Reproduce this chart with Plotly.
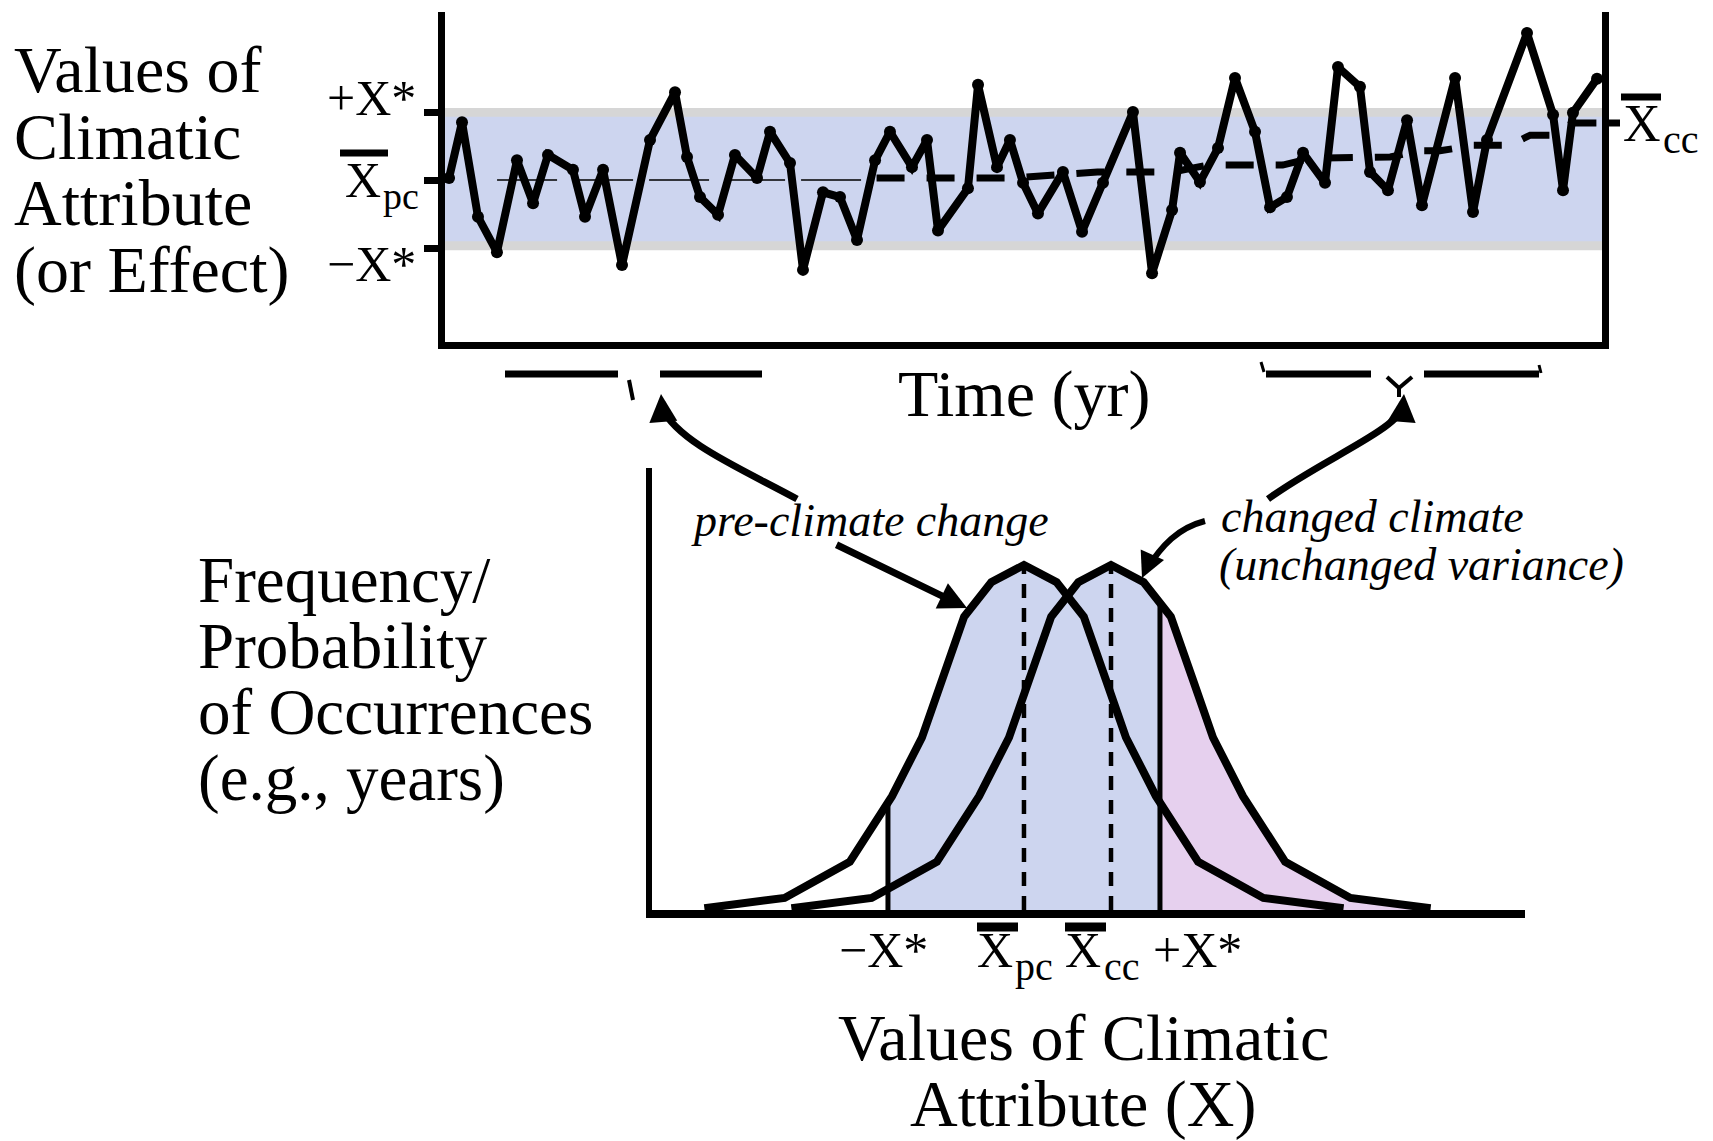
import numpy as np
import plotly.graph_objects as go

W, H = 1713, 1141

# ---------------- data: top time series ----------------
years = [0.35, 1.47, 2.85, 4.49, 6.22, 7.61, 8.90, 11.06, 12.10, 13.66, 15.30, 17.72, 19.88,
         20.92, 22.04, 23.60, 25.06, 26.97, 28.09, 29.82, 30.94, 32.67, 34.14, 35.61, 37.17,
         38.46, 40.36, 41.66, 42.61, 45.20, 46.07, 47.71, 48.83, 49.96, 51.25, 53.41, 55.06,
         56.87, 59.46, 61.11, 62.84, 63.53, 65.25, 66.81, 68.28, 70.01, 71.31, 72.77, 74.16,
         76.06, 77.18, 79.08, 79.95, 81.50, 83.15, 84.44, 87.30, 88.85, 90.06, 93.52, 95.77,
         96.63, 97.49, 99.57]
values = [0.03, 0.85, -0.54, -1.06, 0.29, -0.34, 0.37, 0.15, -0.54, 0.15, -1.25, 0.59, 1.29,
          0.34, -0.25, -0.51, 0.37, 0.03, 0.71, 0.25, -1.32, -0.18, -0.25, -0.88, 0.29,
          0.71, 0.19, 0.59, -0.74, -0.12, 1.40, 0.19, 0.59, -0.04, -0.49, 0.12, -0.76,
          -0.04, 1.00, -1.37, -0.44, 0.40, -0.03, 0.47, 1.50, 0.71, -0.40, -0.25, 0.40,
          -0.04, 1.66, 1.37, 0.12, -0.15, 0.88, -0.37, 1.50, -0.47, 0.59, 2.16, 0.96,
          -0.15, 0.99, 1.49]

# pre-climate mean (thin dashed) and changed-climate trend (thick dashed)
mean_years = [4.5, 36.0]
mean_values = [0.0, 0.0]
trend_years = [37.3, 49.1, 56.4, 62.9, 65.9, 72.4, 74.8, 81.7, 84.3, 86.0, 88.9, 92.0, 93.8,
               95.5, 97.5, 100.0]
trend_values = [0.03, 0.03, 0.12, 0.12, 0.22, 0.22, 0.32, 0.34, 0.43, 0.43, 0.51, 0.51, 0.66,
                0.66, 0.84, 0.84]

X_STAR = 1.0
XBAR_PC_TOP = 0.0
XBAR_CC_TOP = 0.84
band_outer = [-1.03, 1.06]
band_inner = [-0.90, 0.93]

# ---------------- data: bottom distributions ----------------
pre_x = [-2.35, -1.76, -1.28, -0.97, -0.75, -0.60, -0.44, -0.24, 0.0, 0.24, 0.44, 0.60, 0.75,
         0.97, 1.28, 1.76, 2.35]
pre_h = [0.005, 0.035, 0.14, 0.33, 0.50, 0.67, 0.85, 0.95, 1.0, 0.95, 0.85, 0.67, 0.50,
         0.33, 0.14, 0.035, 0.005]
cc_x = [-1.71, -1.12, -0.64, -0.33, -0.11, 0.04, 0.20, 0.40, 0.64, 0.88, 1.08, 1.24, 1.39,
        1.61, 1.92, 2.40, 2.99]
cc_h = [0.005, 0.035, 0.14, 0.33, 0.50, 0.67, 0.85, 0.95, 1.0, 0.95, 0.85, 0.67, 0.50,
        0.33, 0.14, 0.035, 0.005]
XBAR_PC = 0.0
XBAR_CC = 0.64

BLUE = "#cdd5ef"
PINK = "#e6d0ee"
GRAY = "#d6d6d6"
SERIF = "Liberation Serif, Times New Roman, serif"


def px(x):
    return x / W


def py(y):
    return 1 - y / H


fig = go.Figure()

# ---------- top panel ----------
fig.add_trace(go.Scatter(x=mean_years, y=mean_values, mode="lines",
                         line=dict(color="black", width=1.5, dash="60px,16px"),
                         xaxis="x", yaxis="y", hoverinfo="skip"))
fig.add_trace(go.Scatter(x=trend_years, y=trend_values, mode="lines",
                         line=dict(color="black", width=7, dash="28px,22px"),
                         xaxis="x", yaxis="y", hoverinfo="skip"))
fig.add_trace(go.Scatter(x=years, y=values, mode="lines+markers",
                         line=dict(color="black", width=8),
                         marker=dict(color="black", size=12),
                         xaxis="x", yaxis="y", cliponaxis=False))

# ---------- bottom panel ----------
pre_x_a = np.array(pre_x)
pre_h_a = np.array(pre_h)
cc_x_a = np.array(cc_x)
cc_h_a = np.array(cc_h)


def h_pre(x):
    return np.interp(x, pre_x_a, pre_h_a, left=0, right=0)


def h_cc(x):
    return np.interp(x, cc_x_a, cc_h_a, left=0, right=0)


gx = np.linspace(-X_STAR, X_STAR, 600)
env = np.maximum(h_pre(gx), h_cc(gx))
fig.add_trace(go.Scatter(x=gx, y=env, mode="lines", line=dict(width=0, color=BLUE),
                         fill="tozeroy", fillcolor=BLUE, xaxis="x2", yaxis="y2",
                         hoverinfo="skip"))
gp = np.linspace(X_STAR, cc_x[-1], 300)
fig.add_trace(go.Scatter(x=gp, y=h_cc(gp), mode="lines", line=dict(width=0, color=PINK),
                         fill="tozeroy", fillcolor=PINK, xaxis="x2", yaxis="y2",
                         hoverinfo="skip"))
# vertical reference lines
fig.add_trace(go.Scatter(x=[-X_STAR, -X_STAR], y=[0, float(h_pre(-X_STAR))], mode="lines",
                         line=dict(color="black", width=5), xaxis="x2", yaxis="y2"))
fig.add_trace(go.Scatter(x=[X_STAR, X_STAR], y=[0, float(h_cc(X_STAR))], mode="lines",
                         line=dict(color="black", width=5), xaxis="x2", yaxis="y2"))
fig.add_trace(go.Scatter(x=[XBAR_PC, XBAR_PC], y=[0, float(h_pre(XBAR_PC))], mode="lines",
                         line=dict(color="black", width=4.5, dash="14px,10px"),
                         xaxis="x2", yaxis="y2"))
fig.add_trace(go.Scatter(x=[XBAR_CC, XBAR_CC], y=[0, float(h_cc(XBAR_CC))], mode="lines",
                         line=dict(color="black", width=4.5, dash="14px,10px"),
                         xaxis="x2", yaxis="y2"))
# curves
fig.add_trace(go.Scatter(x=pre_x, y=pre_h, mode="lines", line=dict(color="black", width=8),
                         xaxis="x2", yaxis="y2", cliponaxis=False))
fig.add_trace(go.Scatter(x=cc_x, y=cc_h, mode="lines", line=dict(color="black", width=8),
                         xaxis="x2", yaxis="y2", cliponaxis=False))

shapes = []
# bands in top panel
shapes.append(dict(type="rect", xref="x domain", yref="y", x0=0, x1=1,
                   y0=band_outer[0], y1=band_outer[1], fillcolor=GRAY, line_width=0,
                   layer="below"))
shapes.append(dict(type="rect", xref="x domain", yref="y", x0=0, x1=1,
                   y0=band_inner[0], y1=band_inner[1], fillcolor=BLUE, line_width=0,
                   layer="below"))


def pline(x0, y0, x1, y1, w=6):
    shapes.append(dict(type="line", xref="paper", yref="paper", x0=px(x0), y0=py(y0),
                       x1=px(x1), y1=py(y1), line=dict(color="black", width=w)))


def ppath(pts, w=6):
    (x0, y0), rest = pts[0], pts[1:]
    d = "M %.5f,%.5f C " % (px(x0), py(y0)) + " ".join("%.5f,%.5f" % (px(a), py(b)) for a, b in rest)
    shapes.append(dict(type="path", xref="paper", yref="paper", path=d,
                       line=dict(color="black", width=w)))


# overbars
pline(340, 153, 388, 153, 7)
pline(1621, 97, 1661, 97, 7)
pline(977, 927, 1018, 927, 9)
pline(1065, 927, 1106, 927, 9)
# Xcc tick on right axis
pline(1602, 123, 1620, 123, 7)
# braces under time axis
pline(505, 374, 618, 374, 7)
pline(629, 380, 633, 400, 4)
pline(660, 374, 762, 374, 7)
pline(1261, 362, 1264, 372, 3)
pline(1266, 374, 1371, 374, 7)
pline(1387, 377, 1399, 388, 4)
pline(1412, 377, 1399, 388, 4)
pline(1399, 388, 1399, 397, 4)
pline(1424, 374, 1539, 374, 7)
pline(1539, 365, 1541, 373, 3)
# curved connector arrows
ppath([(797, 499), (740, 468), (678, 442), (662, 408)], 7)
ppath([(1268, 499), (1322, 460), (1392, 432), (1403, 408)], 7)
ppath([(1205, 521), (1178, 528), (1162, 545), (1146, 570)], 6)

ann = []


def text(x, y, s, size, xanchor="left", italic=False):
    ann.append(dict(x=px(x), y=py(y), xref="paper", yref="paper", text=s, showarrow=False,
                    xanchor=xanchor, yanchor="middle", borderpad=0,
                    font=dict(family=SERIF, size=size, color="black",
                              style="italic" if italic else "normal")))


def arrow(xt, yt, xs, ys, w=6, size=0.9):
    ann.append(dict(x=px(xt), y=py(yt), xref="paper", yref="paper", text="", showarrow=True,
                    ax=xs - xt, ay=ys - yt, axref="pixel", ayref="pixel",
                    arrowhead=2, arrowsize=size, arrowwidth=w, arrowcolor="black"))


for s, yc in zip(["Values of", "Climatic", "Attribute", "(or Effect)"], [70, 137, 203, 270]):
    text(13, yc, s, 66)
for s, yc in zip(["Frequency/", "Probability", "of Occurrences", "(e.g., years)"],
                 [580, 646, 712, 778]):
    text(197, yc, s, 65)
text(1024, 394, "Time (yr)", 66, "center")
text(1083, 1037, "Values of Climatic", 66, "center")
text(1083, 1104, "Attribute (X)", 66, "center")
text(690, 520, "pre-climate change", 46, italic=True)
text(1220, 516, "changed climate", 46, italic=True)
text(1218, 564, "(unchanged variance)", 46, italic=True)

# tick labels, top panel
text(417, 98, "+X*", 50, "right")
text(417, 264, "\u2212X*", 50, "right")
text(344, 180, "X", 50)
text(382, 196, "pc", 38)
text(1622, 123, "X", 52)
text(1662, 139, "cc", 40)
# tick labels, bottom panel
text(838, 950, "\u2212X*", 50)
text(976, 950, "X", 50)
text(1014, 966, "pc", 40)
text(1064, 950, "X", 50)
text(1103, 966, "cc", 40)
text(1152, 950, "+X*", 50)

# arrowheads
arrow(967, 608, 835, 544, 7, 0.8)
arrow(1142, 578, 1150, 560, 6, 0.85)
arrow(661, 394, 663, 418, 7, 0.8)
arrow(1404, 394, 1402, 418, 7, 0.8)

top_dom_y = [py(342), py(12)]
bot_dom_y = [py(910), py(468)]
fig.update_layout(
    width=W, height=H, margin=dict(l=0, r=0, t=0, b=0), autosize=False,
    paper_bgcolor="white", plot_bgcolor="rgba(0,0,0,0)", showlegend=False,
    shapes=shapes, annotations=ann,
    xaxis=dict(domain=[px(445), px(1602)], range=[0, 100], anchor="y", showline=True,
               linewidth=7, linecolor="black", showgrid=False, zeroline=False,
               showticklabels=False, ticks=""),
    yaxis=dict(domain=top_dom_y, range=[-2.38, 2.47], anchor="x", showline=True,
               mirror=True, linewidth=7, linecolor="black", showgrid=False, zeroline=False,
               ticks="outside", tickvals=[-X_STAR, XBAR_PC_TOP, X_STAR], ticklen=14,
               tickwidth=7, tickcolor="black", showticklabels=False),
    xaxis2=dict(domain=[px(652), px(1525)], range=[-2.735, 3.684], anchor="y2",
                showline=True, linewidth=8, linecolor="black", showgrid=False,
                zeroline=False, showticklabels=False, ticks=""),
    yaxis2=dict(domain=bot_dom_y, range=[0, 1.281], anchor="x2", showline=True,
                linewidth=6, linecolor="black", showgrid=False, zeroline=False,
                showticklabels=False, ticks=""),
)

fig.write_html("out.html", config={"displayModeBar": False},
               post_script="document.body.style.margin='0px';document.body.style.overflow='hidden';")
